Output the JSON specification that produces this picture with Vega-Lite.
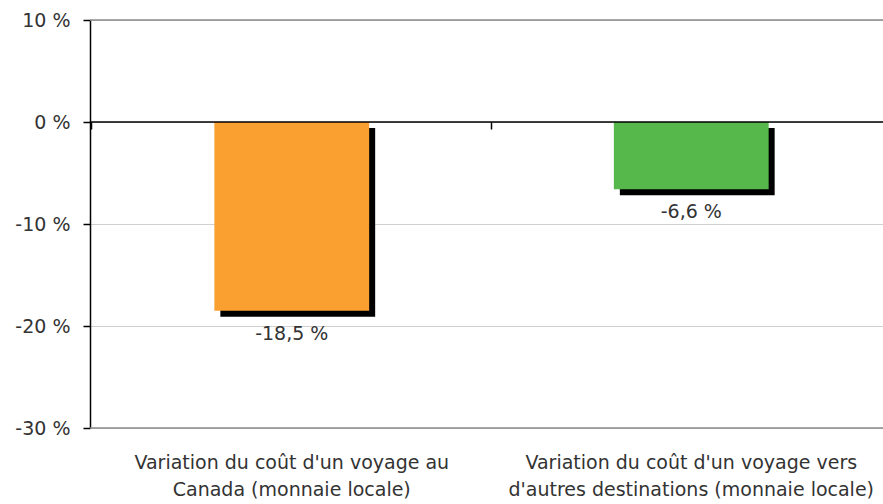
{
  "$schema": "https://vega.github.io/schema/vega-lite/v6.json",
  "width": 793,
  "height": 408,
  "autosize": {"type": "none"},
  "padding": {"left": 90, "top": 20, "right": 0, "bottom": 76},
  "background": "white",
  "config": {
    "view": {"stroke": null},
    "font": "DejaVu Sans",
    "axis": {"labelFont": "DejaVu Sans", "labelFontSize": 19, "labelColor": "#333333", "title": null}
  },
  "datasets": {
    "bars": [
      {"cat": "Canada", "value": -18.5, "label": "-18,5 %"},
      {"cat": "Autres", "value": -6.6, "label": "-6,6 %"}
    ],
    "borders": [{"v": 10}, {"v": -30}],
    "zero": [{"v": 0}]
  },
  "layer": [
    {
      "data": {"name": "borders"},
      "mark": {"type": "rule", "color": "#8a8a8a", "strokeWidth": 1.5},
      "encoding": {
        "y": {
          "field": "v", "type": "quantitative",
          "scale": {"domain": [-30, 10], "nice": false, "zero": false},
          "axis": {
            "values": [-30, -20, -10, 0, 10],
            "labelExpr": "datum.value + ' %'",
            "domainColor": "black", "domainWidth": 1.5,
            "tickColor": "black", "tickSize": 7, "tickWidth": 1.5,
            "labelPadding": 13,
            "grid": true, "gridColor": "#d0d0d0", "gridWidth": 1
          }
        }
      }
    },
    {
      "data": {"name": "bars"},
      "encoding": {
        "x": {
          "field": "cat", "type": "nominal", "sort": null,
          "scale": {"paddingInner": 0.6125, "paddingOuter": 0.29875, "align": 0.521},
          "axis": {
            "domain": false, "grid": false, "offset": -306,
            "ticks": true, "tickColor": "black", "tickSize": 7, "tickWidth": 1.5,
            "bandPosition": -0.7935,
            "labelPadding": 324, "labelAngle": 0, "labelBaseline": "top",
            "labelLineHeight": 27, "labelLimit": 0, "labelOverlap": false,
            "labelExpr": "datum.value == 'Canada' ? [\"Variation du coût d'un voyage au\", \"Canada (monnaie locale)\"] : [\"Variation du coût d'un voyage vers\", \"d'autres destinations (monnaie locale)\"]"
          }
        },
        "y": {"field": "value", "type": "quantitative", "scale": {"domain": [-30, 10], "nice": false, "zero": false}}
      },
      "layer": [
        {"mark": {"type": "bar", "color": "black", "xOffset": 6, "yOffset": 6}},
        {
          "mark": {"type": "bar"},
          "encoding": {
            "color": {"field": "cat", "type": "nominal", "scale": {"domain": ["Canada", "Autres"], "range": ["#F9A031", "#56B84B"]}, "legend": null}
          }
        },
        {
          "mark": {"type": "text", "dy": 23, "baseline": "middle", "fontSize": 19, "color": "#333333", "font": "DejaVu Sans"},
          "encoding": {"text": {"field": "label"}}
        }
      ]
    },
    {
      "data": {"name": "zero"},
      "mark": {"type": "rule", "color": "black", "strokeWidth": 1.5},
      "encoding": {"y": {"field": "v", "type": "quantitative"}}
    }
  ]
}
